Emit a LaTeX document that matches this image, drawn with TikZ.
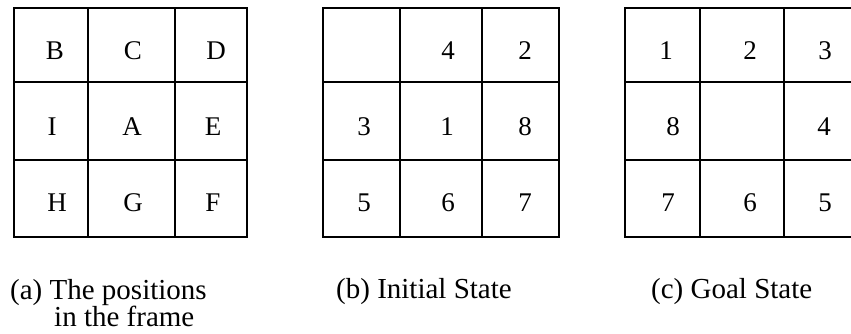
\documentclass[tikz,border=0pt]{standalone}
\usepackage{fontspec}
\setmainfont{Liberation Serif}
\usetikzlibrary{positioning}

\begin{document}
\begin{tikzpicture}[
  x=1pt, y=-1pt,
  % lines of the 3x3 frames
  frame/.style={line width=1.9pt, draw=black},
  % numbers / letters inside the cells
  tile/.style={anchor=base, inner sep=0pt,
               font=\fontsize{27}{30}\selectfont},
  % sub-captions under the frames
  caption/.style={anchor=base west, inner sep=0pt,
                  font=\fontsize{29}{30}\selectfont}
]
\clip (0,0) rectangle (851,333);

%% ── Frame (a): the positions in the frame ───────────────────
\draw[frame] (14,8) rectangle (247,237);
\foreach \x in {88,175} \draw[frame] (\x,8) -- (\x,237);
\foreach \y in {82,160} \draw[frame] (14,\y) -- (247,\y);
\foreach \t/\x/\y in {B/55/59, C/133/59, D/216/59,
                      I/52/135, A/132/135, E/213/135,
                      H/57/211, G/133/211, F/213/211}
  \node[tile] (pos\t) at (\x,\y) {\t};

%% ── Frame (b): initial state (blank in top-left cell) ───────
\draw[frame] (323,8) rectangle (559,237);
\foreach \x in {400,482} \draw[frame] (\x,8) -- (\x,237);
\foreach \y in {82,160} \draw[frame] (323,\y) -- (559,\y);
\foreach \t/\x/\y in {4/448/59, 2/525/59,
                      3/364/135, 1/447/135, 8/525/135,
                      5/364/211, 6/448/211, 7/525/211}
  \node[tile] (init\t) at (\x,\y) {\t};

%% ── Frame (c): goal state (blank in centre, right edge cut) ─
\draw[frame] (625,8) rectangle (861,237);
\foreach \x in {700,784} \draw[frame] (\x,8) -- (\x,237);
\foreach \y in {82,160} \draw[frame] (625,\y) -- (861,\y);
\foreach \t/\x/\y in {1/666/59, 2/750/59, 3/825/59,
                      8/673/135, 4/824/135,
                      7/668/211, 6/750/211, 5/825/211}
  \node[tile] (goal\t) at (\x,\y) {\t};

%% ── Captions ────────────────────────────────────────────────
\node[caption] (capa)  at (10,299)  {(a) The positions};
\node[caption] (capa2) at ([xshift=44pt,yshift=-27pt]capa.base west)
    {in the frame};
\node[caption] (capb)  at (336,298) {(b) Initial State};
\node[caption] (capc)  at (651,298) {(c) Goal State};

\end{tikzpicture}
\end{document}
